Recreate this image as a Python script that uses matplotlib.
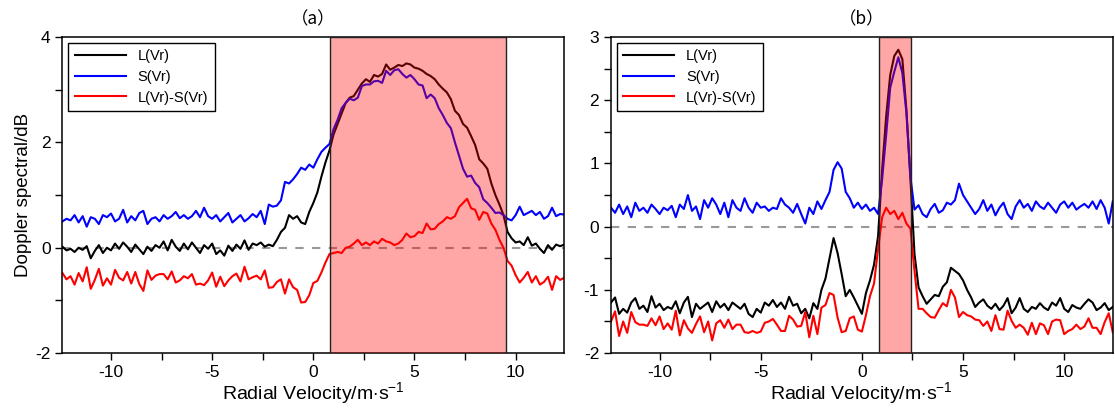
import numpy as np
import matplotlib
matplotlib.use('Agg')
import matplotlib.pyplot as plt
from matplotlib.ticker import MultipleLocator

plt.rcParams['font.family'] = ['Liberation Sans', 'DejaVu Sans']
plt.rcParams['mathtext.fontset'] = 'custom'
plt.rcParams['mathtext.rm'] = 'Liberation Sans'
plt.rcParams['mathtext.it'] = 'Liberation Sans:italic'
plt.rcParams['axes.unicode_minus'] = False

# velocity range of the spectra (m/s)
v_min, v_max = -12.4, 12.4

# panel (a): long / short integration spectra (dB)
a_L = [0.02, -0.05, -0.02, -0.08, 0.0, -0.04, 0.03, -0.2, -0.06, 0.05,
       -0.1, 0.0, -0.05, 0.08, -0.02, 0.1, 0.02, -0.08, 0.06, -0.03,
       -0.12, 0.02, -0.06, 0.05, 0.0, 0.12, -0.05, 0.15, 0.02, -0.06,
       0.08, -0.03, 0.1, 0.0, -0.1, 0.05, -0.02, 0.08, -0.12, -0.05,
       -0.15, 0.04, -0.06, 0.06, -0.02, 0.14, -0.04, 0.08, 0.05, 0.1,
       0.02, 0.06, 0.03, 0.15, 0.3, 0.38, 0.62, 0.55, 0.6, 0.48,
       0.45, 0.68, 0.85, 1.05, 1.35, 1.62, 1.85, 2.15, 2.35, 2.55,
       2.75, 2.85, 2.88, 3.0, 3.12, 3.2, 3.15, 3.28, 3.25, 3.3,
       3.48, 3.38, 3.42, 3.47, 3.45, 3.5, 3.48, 3.42, 3.4, 3.36,
       3.3, 3.26, 3.2, 3.1, 3.02, 2.95, 2.82, 2.6, 2.52, 2.35,
       2.28, 2.12, 1.95, 1.68, 1.6, 1.5, 1.22, 1.0, 0.82, 0.62,
       0.3, 0.18, 0.1, 0.12, 0.05, 0.2, 0.04, 0.08, -0.02, -0.1,
       0.05, -0.04, 0.06, 0.03, 0.06]
a_S = [0.5, 0.55, 0.52, 0.62, 0.48, 0.6, 0.4, 0.58, 0.55, 0.45,
       0.62, 0.58, 0.65, 0.5, 0.55, 0.72, 0.48, 0.6, 0.52, 0.66,
       0.7, 0.45, 0.55, 0.58, 0.5, 0.62, 0.55, 0.6, 0.68, 0.56,
       0.62, 0.55, 0.6, 0.7, 0.58, 0.76, 0.6, 0.55, 0.62, 0.5,
       0.58, 0.66, 0.48, 0.55, 0.62, 0.5, 0.56, 0.64, 0.58, 0.7,
       0.45, 0.82, 0.78, 0.8, 0.9, 1.25, 1.22, 1.3, 1.4, 1.52,
       1.48, 1.58, 1.52, 1.68, 1.82, 1.9, 1.97, 2.25, 2.43, 2.65,
       2.75, 2.83, 2.8, 2.85, 3.07, 3.1, 3.1, 3.16, 3.17, 3.13,
       3.36, 3.28, 3.37, 3.39, 3.3, 3.23, 3.28, 3.2, 3.1, 3.08,
       2.84, 2.91, 2.84, 2.65, 2.52, 2.37, 2.27, 2.0, 1.75, 1.5,
       1.35, 1.37, 1.23, 1.15, 0.92, 0.85, 0.76, 0.66, 0.67, 0.62,
       0.55, 0.52, 0.62, 0.78, 0.62, 0.66, 0.7, 0.62, 0.68, 0.55,
       0.6, 0.76, 0.6, 0.64, 0.63]

# panel (b)
b_L = [-1.2, -1.12, -1.38, -1.3, -1.36, -1.2, -1.13, -1.3, -1.25, -1.35,
       -1.1, -1.28, -1.22, -1.32, -1.27, -1.3, -1.18, -1.37, -1.2, -1.11,
       -1.43, -1.22, -1.3, -1.25, -1.2, -1.35, -1.18, -1.28, -1.22, -1.32,
       -1.2, -1.25, -1.3, -1.22, -1.38, -1.43, -1.3, -1.36, -1.2, -1.25,
       -1.16, -1.27, -1.2, -1.3, -1.11, -1.25, -1.22, -1.37, -1.3, -1.45,
       -1.21, -1.3, -1.0, -0.82, -0.5, -0.18, -0.42, -0.75, -1.1, -1.0,
       -1.12, -1.25, -1.38, -1.05, -0.85, -0.6, -0.15, 0.9, 1.75, 2.4,
       2.7, 2.8, 2.65, 1.85, 0.75, -0.43, -0.96, -1.1, -1.22, -1.15,
       -1.08, -1.1, -0.95, -0.88, -0.65, -0.7, -0.75, -0.85, -1.0, -1.12,
       -1.27, -1.2, -1.15, -1.25, -1.3, -1.22, -1.32, -1.25, -1.13, -1.37,
       -1.28, -1.13, -1.3, -1.35, -1.27, -1.3, -1.21, -1.28, -1.32, -1.2,
       -1.25, -1.13, -1.3, -1.35, -1.24, -1.28, -1.3, -1.22, -1.15, -1.2,
       -1.32, -1.28, -1.21, -1.32, -1.27]
b_S = [0.3, 0.22, 0.35, 0.2, 0.32, 0.15, 0.38, 0.25, 0.3, 0.22,
       0.35, 0.28, 0.2, 0.3, 0.26, 0.33, 0.15, 0.35, 0.28, 0.5,
       0.25, 0.32, 0.12, 0.42, 0.3, 0.45, 0.35, 0.2, 0.38, 0.15,
       0.42, 0.3, 0.25, 0.45, 0.3, 0.22, 0.38, 0.3, 0.32, 0.25,
       0.3, 0.28, 0.45, 0.35, 0.3, 0.22, 0.36, 0.2, 0.05, 0.3,
       0.2, 0.4, 0.28, 0.42, 0.55, 0.9, 1.02, 0.92, 0.55, 0.45,
       0.3, 0.38, 0.28, 0.35, 0.25, 0.3, 0.2, 0.75, 1.45, 2.2,
       2.45, 2.68, 2.43, 1.8, 0.78, 0.27, 0.34, 0.2, 0.15, 0.28,
       0.36, 0.22, 0.26, 0.38, 0.35, 0.42, 0.68, 0.5, 0.4, 0.3,
       0.2, 0.28, 0.42, 0.25, 0.35, 0.18, 0.3, 0.38, 0.2, 0.12,
       0.32, 0.42, 0.3, 0.36, 0.25, 0.4, 0.32, 0.28, 0.38, 0.3,
       0.22, 0.35, 0.4, 0.3, 0.38, 0.27, 0.32, 0.36, 0.3, 0.4,
       0.28, 0.42, 0.3, 0.05, 0.4]

# velocity windows highlighted in each panel
shade_a = (0.8, 9.5)
shade_b = (0.83, 2.42)


def draw_panel(ax, L, S, shade, ylim, ystep, title):
    L = np.array(L)
    S = np.array(S)
    v = np.linspace(v_min, v_max, len(L))
    ax.axhline(0, color='#999999', ls=(0, (4, 4)), lw=1.5, zorder=1)
    ax.plot(v, L, color='black', lw=1.5, label='L(Vr)')
    ax.plot(v, S, color='blue', lw=1.5, label='S(Vr)')
    ax.plot(v, L - S, color='red', lw=1.5, label='L(Vr)-S(Vr)')
    ax.axvspan(shade[0], shade[1], facecolor=(1, 0, 0, 0.35),
               edgecolor='#222222', lw=1.0, zorder=3)
    ax.set_xlim(v_min, v_max)
    ax.set_ylim(*ylim)
    ax.xaxis.set_major_locator(MultipleLocator(5))
    ax.xaxis.set_minor_locator(MultipleLocator(2.5))
    ax.yaxis.set_major_locator(MultipleLocator(ystep))
    ax.yaxis.set_minor_locator(MultipleLocator(ystep / 2))
    ax.tick_params(which='both', direction='out', length=5, width=1,
                   labelsize=12.5, top=False, right=False)
    for sp in ax.spines.values():
        sp.set_linewidth(1.1)
    ax.set_xlabel(r'Radial Velocity/m$\cdot$s$^{-1}$', fontsize=14, labelpad=0)
    ax.set_title(title, fontsize=12.5, family=['Noto Sans CJK SC', 'DejaVu Sans'], pad=9)
    leg = ax.legend(loc='upper left', fontsize=10.5, handlelength=3.5,
                    fancybox=False, edgecolor='black', framealpha=1,
                    borderaxespad=0.4, labelspacing=0.45, borderpad=0.45)
    leg.get_frame().set_linewidth(1.0)
    leg.set_zorder(6)


fig = plt.figure(figsize=(11.15, 4.12), dpi=100)
ax_a = fig.add_axes([0.056, 0.143, 0.450, 0.767])
ax_b = fig.add_axes([0.548, 0.143, 0.450, 0.767])

draw_panel(ax_a, a_L, a_S, shade_a, (-2, 4), 2, '（a）')
draw_panel(ax_b, b_L, b_S, shade_b, (-2, 3), 1, '（b）')
ax_a.set_ylabel('Doppler spectral/dB', fontsize=13.5, labelpad=2)

fig.savefig('out.png', dpi=100)
